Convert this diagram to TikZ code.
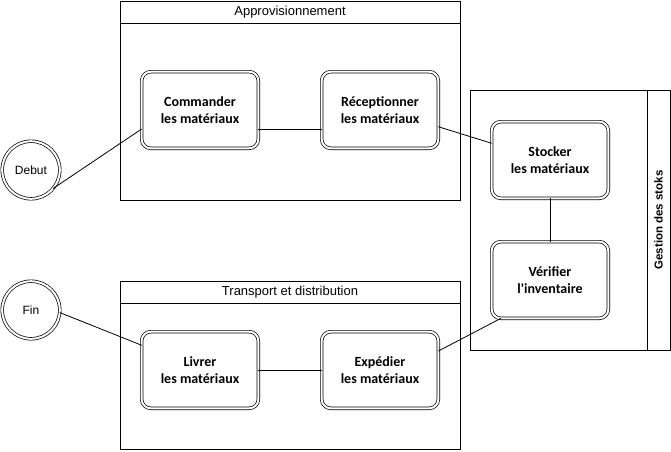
\documentclass[tikz,border=0pt]{standalone}
\usepackage{fontspec}
\setmainfont{Liberation Sans}
\newfontfamily\taskfont{Carlito}
\begin{document}
\begin{tikzpicture}[x=1pt, y=-1pt, line width=0.8pt,
    task/.style={rectangle, rounded corners=9pt, draw, line width=0.7pt, double, double distance=2pt, minimum width=116.6pt, minimum height=76.6pt, inner sep=0pt, outer sep=0pt, align=center, font=\taskfont\bfseries\fontsize{14}{17}\selectfont},
    event/.style={circle, draw, line width=0.7pt, double, double distance=2pt, minimum size=57.6pt, inner sep=0pt, outer sep=0pt, font=\fontsize{12}{14}\selectfont},
    pooltitle/.style={font=\fontsize{13}{15}\selectfont, inner sep=0pt}]
    \useasboundingbox (0,0) rectangle (671,451);
    \draw (120,1) rectangle (460,200);
    \draw (120,23) -- (460,23);
    \node[pooltitle] (P1) at (290,12) {Approvisionnement};
    \draw (120,281) rectangle (460,449);
    \draw (120,303) -- (460,303);
    \node[pooltitle] (P2) at (290,292) {Transport et distribution};
    \draw (470,90) rectangle (670,350);
    \draw (647,90) -- (647,350);
    \node[pooltitle, font=\bfseries\fontsize{11.5}{14}\selectfont, rotate=90] (P3) at (658.5,220) {Gestion des stoks};
    \node[event] (D) at (31,170) {Debut};
    \node[event] (F) at (31,310) {Fin};
    \node[task] (A) at (200,110) {Commander\\les matériaux};
    \node[task] (B) at (380,110) {Réceptionner\\les matériaux};
    \node[task] (C) at (550,160) {Stocker\\les matériaux};
    \node[task] (V) at (550,280) {Vérifier\\l'inventaire};
    \node[task] (E) at (380,370) {Expédier\\les matériaux};
    \node[task] (L) at (200,370) {Livrer\\les matériaux};
    \draw (D.-40) -- (A.198.5);
    \draw (A.-18.5) -- (B.198.5);
    \draw (B.-16.7) -- (C.164.2);
    \draw (C) -- (V);
    \draw (V.218) -- (E.18.4);
    \draw (E) -- (L);
    \draw (F.-5) -- (L.157.4);
\end{tikzpicture}
\end{document}
